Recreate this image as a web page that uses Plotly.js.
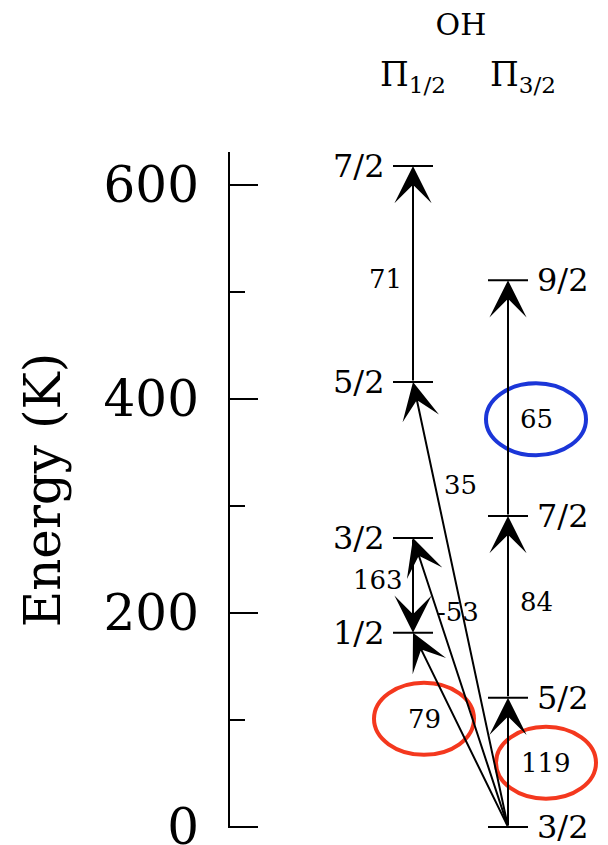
<!DOCTYPE html>
<html><head><meta charset="utf-8">
<script src="https://cdn.plot.ly/plotly-3.0.1.min.js"></script>
<style>html,body{margin:0;padding:0;background:#fff}#chart{width:608px;height:845px}</style>
</head><body><div id="chart"></div>
<script>
// ---- data: OH rotational energy levels (K) ----
const halfJ = ['1/2', '3/2', '5/2', '7/2'];          // 2Π1/2 ladder
const halfE = [181.5, 270.1, 415.9, 617.6];
const threeHalfJ = ['3/2', '5/2', '7/2', '9/2'];     // 2Π3/2 ladder
const threeHalfE = [0, 120.7, 290.5, 511.0];
const yTickVals = [0, 200, 400, 600];
const yMinorVals = [100, 300, 500];
// transitions (wavelength labels in µm), from level -> to level (ladder+index)
const transLabels = ['119', '84', '65', '71', '163', '79', '-53', '35'];
const transFrom   = ['B0', 'B1', 'B2', 'A2', 'A1', 'B0', 'B0', 'B0'];
const transTo     = ['B1', 'B2', 'B3', 'A3', 'A0', 'A0', 'A1', 'A2'];
const circledLabels = ['65', '79', '119'];
const circledColors = ['#1b36d8', '#f4381e', '#f4381e'];

// ---- layout / positions (not data) ----
const FONT = 'DejaVu Serif';
const colX = {A: 413, B: 508};
const halfW = 20;
const labelPos = {   // [x px, energy] of wavelength labels
  '119': [546, 60], '84': [536, 210], '65': [536, 381], '71': [385, 512],
  '163': [378, 231], '79': [424, 101], '-53': [458, 201], '35': [460, 320]
};

function level(code) {
  const ladder = code[0], i = +code.slice(1);
  return {x: colX[ladder], e: ladder === 'A' ? halfE[i] : threeHalfE[i]};
}

// level bars
const lx = [], ly = [];
halfE.forEach(e => { lx.push(colX.A - halfW, colX.A + halfW, null); ly.push(e, e, null); });
threeHalfE.forEach(e => { lx.push(colX.B - halfW, colX.B + halfW, null); ly.push(e, e, null); });

const traces = [{
  x: lx, y: ly, mode: 'lines', type: 'scatter', cliponaxis: false,
  line: {color: '#000', width: 2}, hoverinfo: 'skip', showlegend: false
}];

const ann = [];
// level J labels
halfJ.forEach((j, i) => ann.push({x: colX.A - 26, y: halfE[i], xref: 'x', yref: 'y', text: j,
  showarrow: false, xanchor: 'right', yanchor: 'middle', font: {family: FONT, size: 32, color: '#000'}}));
threeHalfJ.forEach((j, i) => ann.push({x: colX.B + 27, y: threeHalfE[i], xref: 'x', yref: 'y', text: j,
  showarrow: false, xanchor: 'left', yanchor: 'middle', font: {family: FONT, size: 32, color: '#000'}}));
// transition arrows + labels
transLabels.forEach((lab, k) => {
  const a = level(transFrom[k]), b = level(transTo[k]);
  ann.push({x: b.x, y: b.e, ax: a.x, ay: a.e, xref: 'x', yref: 'y', axref: 'x', ayref: 'y',
    text: '', showarrow: true, arrowhead: 3, arrowsize: 3.1, arrowwidth: 2, arrowcolor: '#000',
    standoff: 0, startstandoff: 0, font: {size: 1}});
  const p = labelPos[lab];
  ann.push({x: p[0], y: p[1], xref: 'x', yref: 'y', text: lab, showarrow: false,
    xanchor: 'center', yanchor: 'middle', font: {family: FONT, size: 26, color: '#000'}});
});
// ladder headers
ann.push({x: 413, y: 1.111, xref: 'x', yref: 'paper', text: 'Π<sub>1/2</sub>', showarrow: false,
  xanchor: 'center', yanchor: 'middle', font: {family: FONT, size: 33, color: '#000'}});
ann.push({x: 523, y: 1.111, xref: 'x', yref: 'paper', text: 'Π<sub>3/2</sub>', showarrow: false,
  xanchor: 'center', yanchor: 'middle', font: {family: FONT, size: 33, color: '#000'}});

// highlight ellipses
const shapes = circledLabels.map((lab, k) => ({
  type: 'circle', xref: 'x', yref: 'y', xsizemode: 'pixel', ysizemode: 'pixel',
  xanchor: labelPos[lab][0], yanchor: labelPos[lab][1],
  x0: -50, x1: 50, y0: -36, y1: 36,
  line: {color: circledColors[k], width: 4}, fillcolor: 'rgba(0,0,0,0)'
}));

const layout = {
  width: 608, height: 845,
  margin: {l: 230, r: 0, t: 152, b: 17, pad: 0},
  paper_bgcolor: '#fff', plot_bgcolor: '#fff',
  showlegend: false,
  title: {text: 'OH', x: 461 / 608, xanchor: 'center', xref: 'container', y: 1 - 24 / 845, yanchor: 'middle',
    yref: 'container', font: {family: FONT, size: 30, color: '#000'}},
  xaxis: {range: [230, 608], visible: false, fixedrange: true},
  yaxis: {
    range: [-1, 630.8], showline: true, linecolor: '#000', linewidth: 2,
    ticks: 'inside', ticklen: 28, tickwidth: 2, tickcolor: '#000',
    tickvals: yTickVals, ticktext: yTickVals.map(String),
    minor: {tickvals: yMinorVals, ticks: 'inside', ticklen: 15, tickwidth: 2, tickcolor: '#000', showgrid: false},
    showgrid: false, zeroline: false, ticklabelstandoff: 19, ticklabeloverflow: 'allow',
    tickfont: {family: FONT, size: 50, color: '#000'},
    title: {text: 'Energy (K)', standoff: 27, font: {family: FONT, size: 50, color: '#000'}},
    fixedrange: true
  },
  annotations: ann, shapes: shapes
};

Plotly.newPlot('chart', traces, layout, {staticPlot: true, displayModeBar: false});
</script>
</body></html>
